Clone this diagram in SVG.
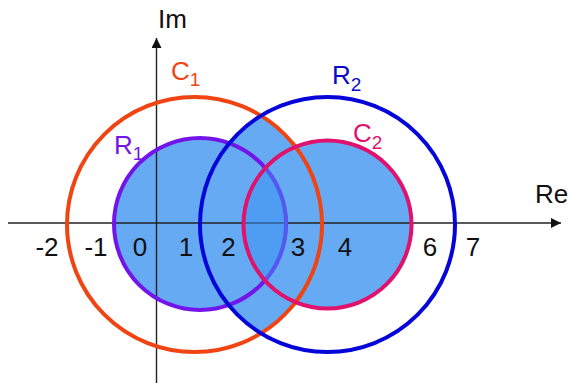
<svg xmlns="http://www.w3.org/2000/svg" width="569" height="383" viewBox="0 0 569 383">
<defs>
<style>
.lbl{font-family:"Liberation Sans",Arial,sans-serif;font-size:26px;fill:#111}
.num{text-anchor:middle}
.sub{font-size:19px}
.ring{fill:none;stroke-width:4}
.light{fill:#66AAF4}
.axis{stroke:#222;stroke-width:1.4;fill:none}
</style>
<clipPath id="clipR2"><circle cx="327.5" cy="224.5" r="127.5"/></clipPath>
<clipPath id="clipR1"><circle cx="200" cy="224" r="88"/></clipPath>
<marker id="arr" viewBox="0 0 10 10" refX="10" refY="5" markerWidth="10" markerHeight="10" markerUnits="userSpaceOnUse" orient="auto">
<path d="M0,0 L10,5 L0,10 z" fill="#111"/>
</marker>
</defs>
<rect width="569" height="383" fill="#fff"/>
<g id="fills">
<circle class="light" cx="194.5" cy="224.5" r="127.5" clip-path="url(#clipR2)"/>
<circle class="light" cx="200" cy="224" r="86"/>
<circle class="light" cx="327.5" cy="224.5" r="84"/>
</g>
<g id="connectors">
<line id="re-axis" class="axis" x1="8" y1="223" x2="561" y2="223" marker-end="url(#arr)"/>
<line id="im-axis" class="axis" x1="156.5" y1="383" x2="156.5" y2="38" marker-end="url(#arr)"/>
</g>
<g id="R1"><circle class="ring" cx="200" cy="224" r="86" stroke="#7214EA"/></g>
<g id="C1"><circle class="ring" cx="194.5" cy="224.5" r="127.5" stroke="#F04412"/></g>
<g id="R2"><circle class="ring" cx="327.5" cy="224.5" r="127.5" stroke="#0505DA"/></g>
<circle cx="327.5" cy="224.5" r="84" fill="#3A91F2" fill-opacity="0.55" clip-path="url(#clipR1)"/>
<g id="C2"><circle class="ring" cx="327.5" cy="224.5" r="84" stroke="#E0126C"/></g>
<g id="labels">
<text class="lbl" x="158" y="28">Im</text>
<text class="lbl" x="535" y="203">Re</text>
<text class="lbl" x="171" y="80" style="fill:#F04412">C<tspan class="sub" dy="6">1</tspan></text>
<text class="lbl" x="114" y="154" style="fill:#7214EA">R<tspan class="sub" dy="6">1</tspan></text>
<text class="lbl" x="332" y="84" style="fill:#0A0ACC">R<tspan class="sub" dy="7">2</tspan></text>
<text class="lbl" x="353" y="142" style="fill:#E0126C">C<tspan class="sub" dy="7">2</tspan></text>
<text class="lbl num" x="47" y="256">-2</text>
<text class="lbl num" x="96" y="256">-1</text>
<text class="lbl num" x="140" y="256">0</text>
<text class="lbl num" x="186" y="256">1</text>
<text class="lbl num" x="228.5" y="256">2</text>
<text class="lbl num" x="298" y="256">3</text>
<text class="lbl num" x="345" y="256">4</text>
<text class="lbl num" x="430" y="256">6</text>
<text class="lbl num" x="473" y="256">7</text>
</g>
</svg>
